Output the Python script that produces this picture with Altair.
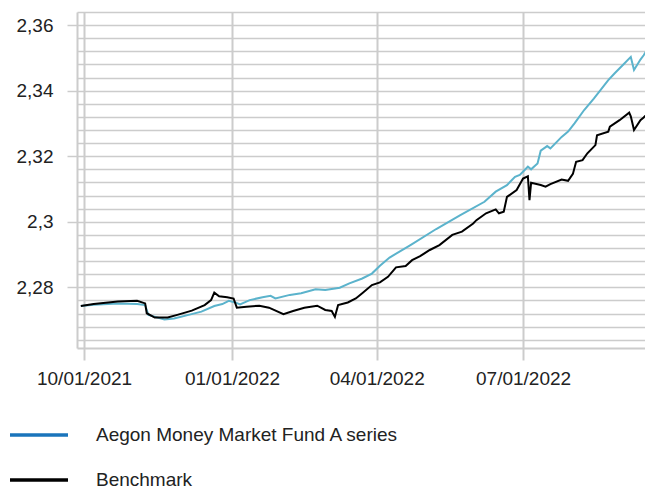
import altair as alt
import pandas as pd

FUND = "Aegon Money Market Fund A series"
BENCH = "Benchmark"

fund_dates = [
    "2021-09-29", "2021-10-07", "2021-10-22", "2021-11-03", "2021-11-08", "2021-11-10",
    "2021-11-20", "2021-11-26", "2021-12-05", "2021-12-13", "2021-12-21", "2021-12-26",
    "2021-12-30", "2022-01-03", "2022-01-06", "2022-01-12", "2022-01-20", "2022-01-25",
    "2022-01-28", "2022-02-06", "2022-02-13", "2022-02-22", "2022-02-28", "2022-03-09",
    "2022-03-15", "2022-03-23", "2022-03-29", "2022-04-03", "2022-04-09", "2022-04-22",
    "2022-05-08", "2022-05-23", "2022-06-07", "2022-06-14", "2022-06-21", "2022-06-26",
    "2022-06-29", "2022-07-04", "2022-07-06", "2022-07-10", "2022-07-12", "2022-07-16",
    "2022-07-18", "2022-07-25", "2022-07-29", "2022-08-02", "2022-08-08", "2022-08-14",
    "2022-08-23", "2022-08-27", "2022-09-02", "2022-09-06", "2022-09-08", "2022-09-12",
    "2022-09-14", "2022-09-18",
]
fund_values = [
    2.2743, 2.2747, 2.2751, 2.2749, 2.2746, 2.2716,
    2.2702, 2.2705, 2.2716, 2.2726, 2.2743, 2.2749,
    2.2759, 2.2754, 2.2748, 2.2761, 2.2770, 2.2774,
    2.2766, 2.2777, 2.2782, 2.2794, 2.2792, 2.2799,
    2.2812, 2.2827, 2.2842, 2.2866, 2.2891, 2.2929,
    2.2978, 2.3020, 2.3061, 2.3092, 2.3112, 2.3137,
    2.3143, 2.3168, 2.3160, 2.3178, 2.3217, 2.3231,
    2.3224, 2.3259, 2.3275, 2.3300, 2.3341, 2.3376,
    2.3432, 2.3453, 2.3483, 2.3503, 2.3463, 2.3495,
    2.3508, 2.3539,
]

bench_dates = [
    "2021-09-29", "2021-10-07", "2021-10-22", "2021-11-03", "2021-11-08", "2021-11-09",
    "2021-11-14", "2021-11-22", "2021-11-28", "2021-12-07", "2021-12-15", "2021-12-19",
    "2021-12-21", "2021-12-24", "2021-12-29", "2022-01-02", "2022-01-04", "2022-01-10",
    "2022-01-18", "2022-01-24", "2022-02-02", "2022-02-08", "2022-02-15", "2022-02-23",
    "2022-02-28", "2022-03-04", "2022-03-06", "2022-03-08", "2022-03-14", "2022-03-19",
    "2022-03-23", "2022-03-29", "2022-04-03", "2022-04-08", "2022-04-13", "2022-04-19",
    "2022-04-23", "2022-04-28", "2022-05-04", "2022-05-10", "2022-05-18", "2022-05-24",
    "2022-05-31", "2022-06-02", "2022-06-08", "2022-06-14", "2022-06-16", "2022-06-19",
    "2022-06-21", "2022-06-27", "2022-07-01", "2022-07-04", "2022-07-05", "2022-07-06",
    "2022-07-12", "2022-07-15", "2022-07-18", "2022-07-25", "2022-07-29", "2022-08-01",
    "2022-08-03", "2022-08-07", "2022-08-10", "2022-08-15", "2022-08-16", "2022-08-23",
    "2022-08-24", "2022-08-30", "2022-09-05", "2022-09-06", "2022-09-08", "2022-09-12",
    "2022-09-14", "2022-09-19",
]
bench_values = [
    2.2743, 2.2749, 2.2757, 2.2759, 2.2751, 2.2721,
    2.2708, 2.2708, 2.2716, 2.2729, 2.2746, 2.2761,
    2.2784, 2.2773, 2.2770, 2.2766, 2.2738, 2.2741,
    2.2744, 2.2738, 2.2718, 2.2728, 2.2738, 2.2744,
    2.2731, 2.2728, 2.2710, 2.2746, 2.2754, 2.2766,
    2.2782, 2.2807, 2.2815, 2.2832, 2.2861, 2.2865,
    2.2883, 2.2895, 2.2914, 2.2929, 2.2960, 2.2970,
    2.2995, 2.3005, 2.3026, 2.3038, 2.3026, 2.3031,
    2.3076, 2.3097, 2.3132, 2.3139, 2.3066, 2.3119,
    2.3112, 2.3107, 2.3115, 2.3129, 2.3125, 2.3146,
    2.3183, 2.3188, 2.3209, 2.3234, 2.3264, 2.3275,
    2.3290, 2.3310, 2.3333, 2.3322, 2.3280, 2.3310,
    2.3318, 2.3343,
]

x_tick_dates = [(2021, 10, 1), (2022, 1, 1), (2022, 4, 1), (2022, 7, 1)]
y_label_values = [2.28, 2.30, 2.32, 2.34, 2.36]
y_grid_values = [round(2.264 + 0.004 * i, 3) for i in range(26)]

series_names = [FUND, BENCH]
line_colors = ["#5bb3cc", "#000000"]
legend_colors = ["#1a74bb", "#000000"]

df = pd.concat([
    pd.DataFrame({"date": fund_dates, "value": fund_values, "series": FUND}),
    pd.DataFrame({"date": bench_dates, "value": bench_values, "series": BENCH}),
])

FONT = "Liberation Sans"
GRID = "#cccccc"
TEXT = "#222222"

major_test = "abs(datum.value * 50 - round(datum.value * 50)) < 0.001"

x_enc = alt.X(
    "date:T",
    title=None,
    scale=alt.Scale(
        type="utc",
        domain=[
            alt.DateTime(year=2021, month=9, date=26, hours=15, utc=True),
            alt.DateTime(year=2022, month=9, date=14, hours=20, utc=True),
        ],
    ),
    axis=alt.Axis(
        values=[alt.DateTime(year=y, month=m, date=d, utc=True) for (y, m, d) in x_tick_dates],
        labelExpr="utcFormat(datum.value, '%m/%d/%Y')",
        grid=True,
        gridColor=GRID,
        gridWidth=2,
        domainColor=GRID,
        domainWidth=2,
        tickColor=GRID,
        tickWidth=2,
        tickSize=12,
        labelFont=FONT,
        labelFontSize=19,
        labelColor=TEXT,
        labelPadding=9,
        labelFlush=False,
        labelOverlap=False,
    ),
)

y_enc = alt.Y(
    "value:Q",
    title=None,
    scale=alt.Scale(domain=[2.2615, 2.364], zero=False, nice=False),
    axis=alt.Axis(
        values=y_grid_values,
        labelExpr=f"({major_test}) ? replace(format(datum.value, '.2~f'), '.', ',') : ''",
        grid=True,
        gridColor=GRID,
        gridWidth=1.5,
        domainColor=GRID,
        domainWidth=2,
        tickColor=GRID,
        tickWidth=1.5,
        tickSize=10,
        tickOpacity={"condition": {"test": major_test, "value": 1}, "value": 0},
        labelFont=FONT,
        labelFontSize=19,
        labelColor=TEXT,
        labelPadding=14,
        labelOverlap=False,
        labelFlush=False,
    ),
)

legend_color = alt.Color(
    "series:N",
    scale=alt.Scale(domain=series_names, range=legend_colors),
    legend=alt.Legend(
        title=None,
        orient="none",
        legendX=-69,
        legendY=413,
        direction="vertical",
        symbolType="stroke",
        symbolSize=3364,
        symbolStrokeWidth=3.5,
        clipHeight=20,
        rowPadding=25,
        labelOffset=26,
        symbolOffset=0,
        padding=0,
        labelFont=FONT,
        labelFontSize=19,
        labelColor=TEXT,
        labelLimit=0,
    ),
)

base = alt.Chart(df)

fund_layer = (
    base.transform_filter(alt.datum.series == FUND)
    .mark_line(strokeWidth=2, color=line_colors[0], clip=True)
    .encode(x=x_enc, y=y_enc)
)
bench_layer = (
    base.transform_filter(alt.datum.series == BENCH)
    .mark_line(strokeWidth=2, color=line_colors[1], clip=True)
    .encode(x=x_enc, y=y_enc)
)
# layer that only carries the legend (no rows pass the filter)
legend_layer = (
    base.transform_filter(alt.datum.value < 0)
    .mark_line(strokeWidth=2, clip=True)
    .encode(x=x_enc, y=y_enc, color=legend_color)
)

chart = (
    alt.layer(fund_layer, bench_layer, legend_layer)
    .properties(
        width=568,
        height=336,
        autosize=alt.AutoSizeParams(type="none"),
        padding={"left": 69, "top": 4, "right": 0, "bottom": 141},
        background="white",
    )
    .configure_view(stroke=None)
)

chart.save("out.html", embed_options={"renderer": "svg", "actions": False})
